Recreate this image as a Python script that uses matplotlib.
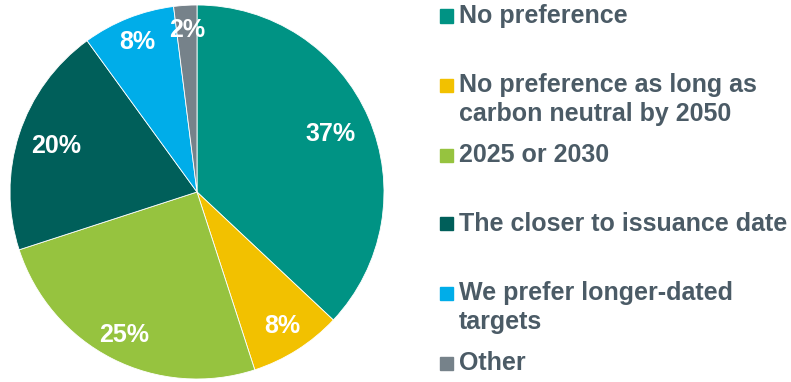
import numpy as np
import matplotlib.pyplot as plt
from matplotlib.patches import Rectangle

labels = ["No preference",
          "No preference as long as\ncarbon neutral by 2050",
          "2025 or 2030",
          "The closer to issuance date",
          "We prefer longer-dated\ntargets",
          "Other"]
values = [37, 8, 25, 20, 8, 2]
colors = ["#009384", "#F2C100", "#96C33F", "#005F5A", "#00ADE9", "#76828A"]
pct_dist = [0.78, 0.85, 0.86, 0.79, 0.86, 0.87]
legend_y = [16, 85, 155, 224, 293, 363]  # first-line pixel centres from top
line_gap = 28.5

plt.rcParams['font.family'] = ['Liberation Sans', 'DejaVu Sans']
W, H = 791, 382
fig = plt.figure(figsize=(W/100, H/100), dpi=100)

cx, cy, R = 197, 190, 187
ax = fig.add_axes([(cx-R)/W, (cy-R)/H, 2*R/W, 2*R/H])
wedges, _ = ax.pie(values, colors=colors, startangle=90, counterclock=False,
                   radius=1, wedgeprops=dict(edgecolor='white', linewidth=0.6))
for w, v, d in zip(wedges, values, pct_dist):
    mid = np.deg2rad((w.theta1 + w.theta2) / 2)
    ax.text(d*np.cos(mid), d*np.sin(mid), f"{v}%", ha='center', va='center',
            color='white', fontsize=18, fontweight='bold')
ax.set_xlim(-1, 1)
ax.set_ylim(-1, 1)
ax.set_aspect('equal')
ax.axis('off')

for lab, c, y in zip(labels, colors, legend_y):
    yy = 1 - y/H
    fig.patches.append(Rectangle((440/W, yy - 6.5/H), 13/W, 13/H, color=c,
                                 transform=fig.transFigure, figure=fig))
    for i, line in enumerate(lab.split("\n")):
        fig.text(459/W, 1 - (y + i*line_gap)/H, line, ha='left', va='center',
                 color='#4B5B66', fontsize=18, fontweight='bold')

fig.savefig("out.png", dpi=100)
